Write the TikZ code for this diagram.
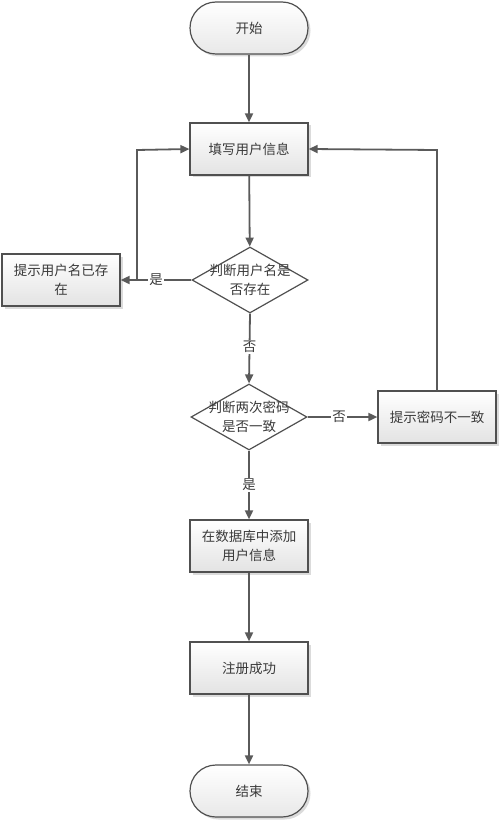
\documentclass[tikz,border=0pt]{standalone}
\usepackage{fontspec}
\setmainfont{Noto Sans CJK SC}
\usetikzlibrary{shapes.geometric,arrows.meta,shadows}
\definecolor{lc}{HTML}{5A5A5A}
\definecolor{bc}{HTML}{505050}
\definecolor{tc}{HTML}{3A3A3A}
\begin{document}
\begin{tikzpicture}[x=1pt,y=-1pt,
  font=\fontsize{13.5}{19}\selectfont, text=tc,
  base/.style={draw=bc, line width=1.2pt, inner sep=0pt, align=center,
    drop shadow={shadow xshift=2.5pt, shadow yshift=-2.5pt, fill=gray!35, opacity=0.8}},
  procbox/.style={base, rectangle, minimum width=118pt, minimum height=52pt,
    top color=white, bottom color=gray!22},
  term/.style={base, rectangle, rounded corners=26pt, minimum width=118pt, minimum height=52pt,
    top color=white, bottom color=gray!18},
  dia/.style={draw=bc, line width=1.2pt, diamond, inner sep=0pt, aspect=1.78,
    minimum width=116pt, minimum height=66pt, fill=white},
  txt/.style={align=center, inner sep=0pt},
  arr/.style={draw=lc, line width=1.8pt, -{Triangle[length=9pt,width=8pt]}},
  lab/.style={fill=white, inner sep=1.5pt}
]
\useasboundingbox (0,0) rectangle (500,821);
\node[term] (start) at (249,28) {开始};
\node[procbox] (fill) at (249,149) {填写用户信息};
\node[dia] (d1) at (250,280) {};
\node[txt] (d1t) at (d1.center) {判断用户名是\\否存在};
\node[procbox] (w1) at (61,280) {提示用户名已存\\在};
\node[dia] (d2) at (249,417) {};
\node[txt] (d2t) at (d2.center) {判断两次密码\\是否一致};
\node[procbox] (w2) at (437,417) {提示密码不一致};
\node[procbox] (db) at (249,546) {在数据库中添加\\用户信息};
\node[procbox] (ok) at (249,668) {注册成功};
\node[term] (end) at (249,791) {结束};
\coordinate (j1) at (137,280);
\coordinate (j1t) at (137,150);
\coordinate (j2t) at (437,150);

\draw[arr] (start) -- (fill);
\draw[arr] (fill) -- (d1);
\draw[arr] (d1.west) -- node[lab,pos=0.5]{是} (w1.east);
\draw[arr] (j1) -- (j1t) -- (fill.west);
\draw[arr] (d1.south) -- node[lab,pos=0.48]{否} (d2.north);
\draw[arr] (d2.east) -- node[lab,pos=0.45]{否} (w2.west);
\draw[arr] (w2.north) -- (j2t) -- (fill.east);
\draw[arr] (d2.south) -- node[lab,pos=0.5]{是} (db.north);
\draw[arr] (db) -- (ok);
\draw[arr] (ok) -- (end);
\end{tikzpicture}
\end{document}
